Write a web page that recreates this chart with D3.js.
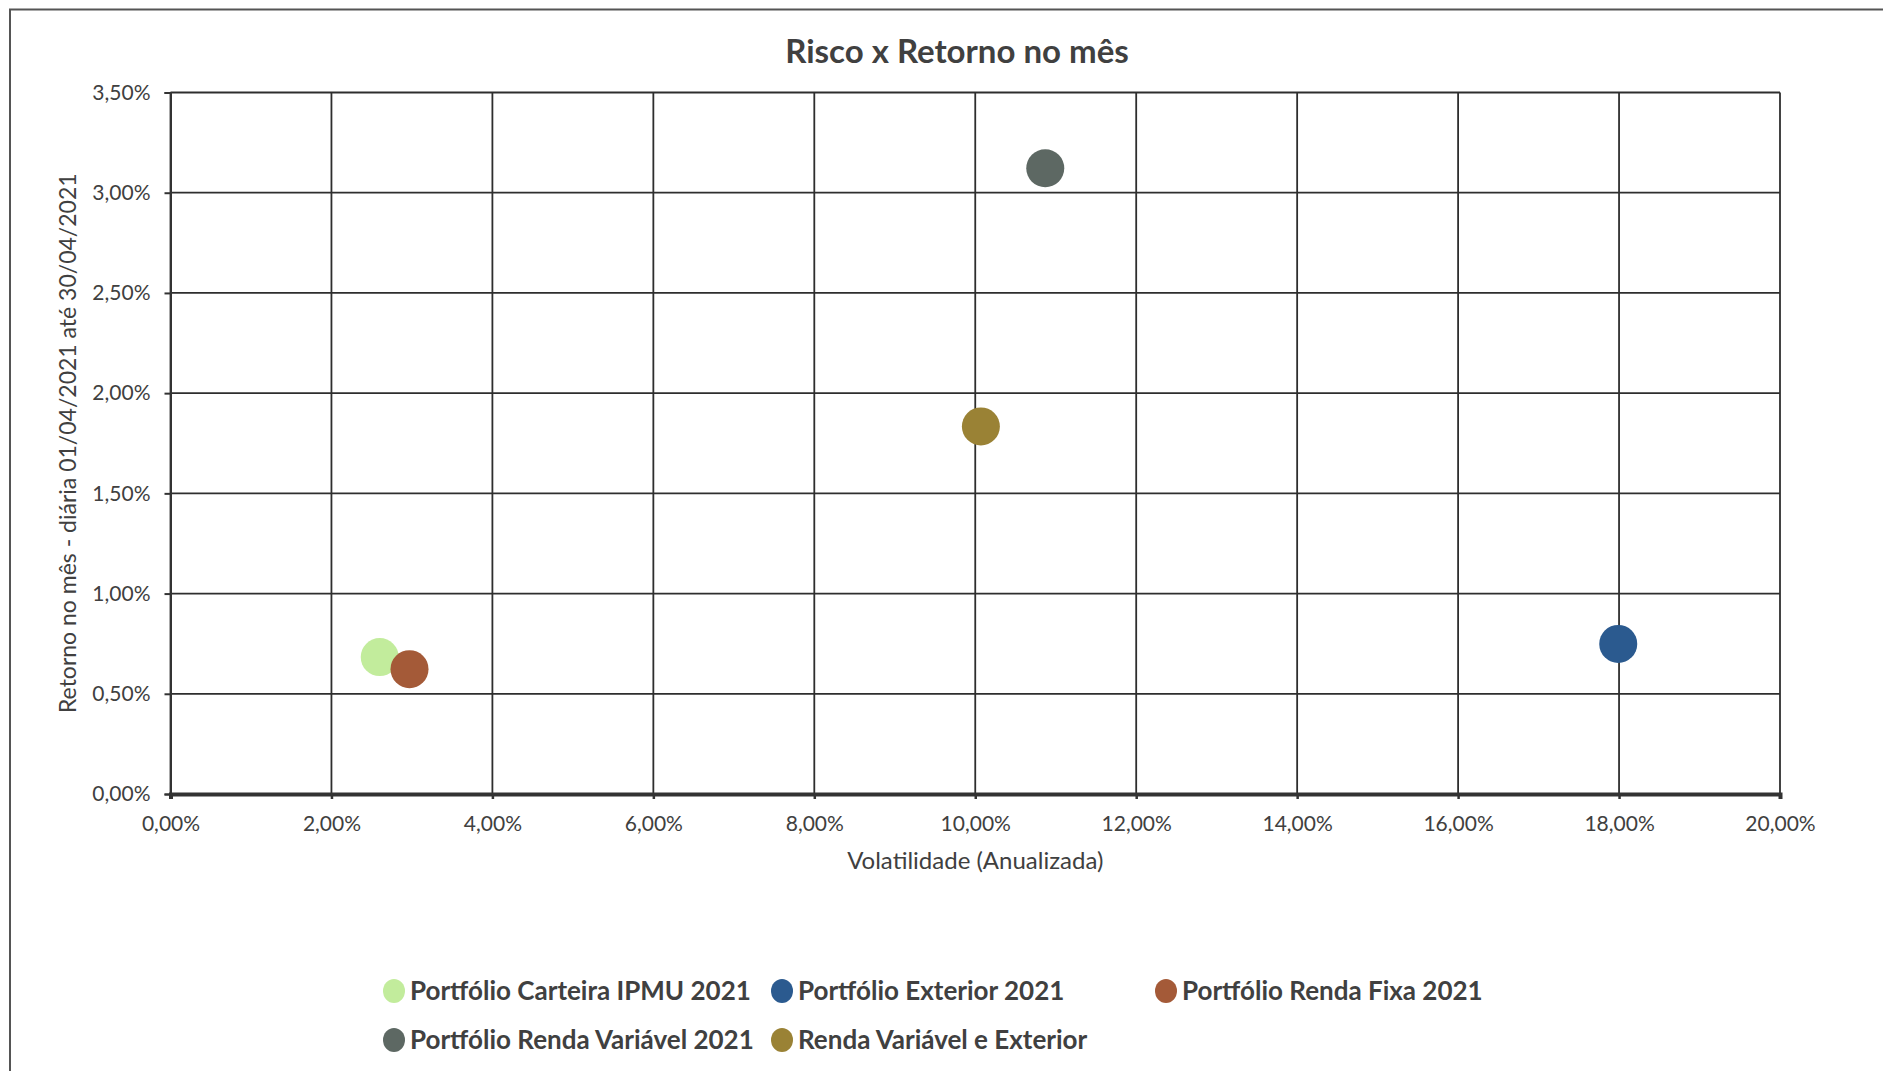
<!DOCTYPE html>
<html>
<head>
<meta charset="utf-8">
<script src="https://cdn.jsdelivr.net/npm/d3@7"></script>
<style>
  html, body { margin: 0; padding: 0; background: #fff; }
  svg { display: block; }
  text { font-family: Lato, "Open Sans", sans-serif; }
</style>
</head>
<body>
<svg id="chart" width="1883" height="1071"></svg>
<script>
// ---- data ----
const seriesNames = [
  "Portfólio Carteira IPMU 2021",
  "Portfólio Exterior 2021",
  "Portfólio Renda Fixa 2021",
  "Portfólio Renda Variável 2021",
  "Renda Variável e Exterior"
];
const volatility = [2.60, 17.99, 2.97, 10.87, 10.07];   // % annualized
const monthReturn = [0.683, 0.749, 0.623, 3.122, 1.834]; // %
const seriesColors = ["#c2ec9c", "#2b5a8f", "#a45a38", "#5d6863", "#9a8235"];
const xTicks = [0, 2, 4, 6, 8, 10, 12, 14, 16, 18, 20];
const yTicks = [0, 0.5, 1.0, 1.5, 2.0, 2.5, 3.0, 3.5];

const chartTitle = "Risco x Retorno no mês";
const xTitle = "Volatilidade (Anualizada)";
const yTitle = "Retorno no mês - diária 01/04/2021 até 30/04/2021";

(function () {
// ---- layout ----
const svg = d3.select("#chart");
const pL = 170.5, pR = 1780, pT = 92.5, pB = 794;
const fmt = v => v.toFixed(2).replace(".", ",") + "%";

const x = d3.scaleLinear().domain([0, 20]).range([pL, pR]);
const y = d3.scaleLinear().domain([0, 3.5]).range([pB, pT]);

// outer chart border
svg.append("path")
  .attr("d", `M10,1071 L10,9.5 L1883,9.5`)
  .attr("fill", "none").attr("stroke", "#555").attr("stroke-width", 2);

// title
svg.append("text")
  .attr("x", 957).attr("y", 63)
  .attr("text-anchor", "middle")
  .attr("font-size", 33).attr("font-weight", "bold")
  .attr("fill", "#404040")
  .text(chartTitle);

// gridlines
const grid = svg.append("g");
grid.selectAll("line.v").data(xTicks).enter().append("line").attr("class", "v")
  .attr("x1", d => x(d)).attr("x2", d => x(d))
  .attr("y1", pT).attr("y2", pB)
  .attr("stroke", "#2e2e2e").attr("stroke-width", 1.8);
grid.selectAll("line.h").data(yTicks).enter().append("line").attr("class", "h")
  .attr("x1", pL).attr("x2", pR)
  .attr("y1", d => y(d)).attr("y2", d => y(d))
  .attr("stroke", "#2e2e2e").attr("stroke-width", 1.8);

// axes
const xAxis = d3.axisBottom(x).tickValues(xTicks).tickFormat(fmt).tickSize(5).tickPadding(17);
const gx = svg.append("g").attr("transform", `translate(0,${pB})`).call(xAxis);
gx.select(".domain").attr("stroke", "#333").attr("stroke-width", 4);
gx.selectAll(".tick line").attr("stroke", "#333").attr("stroke-width", 2.5);
gx.selectAll(".tick text").attr("font-size", 21).attr("fill", "#404040")
  .attr("font-family", "Lato, sans-serif");

const yAxis = d3.axisLeft(y).tickValues(yTicks).tickFormat(fmt).tickSize(6).tickPadding(14);
const gy = svg.append("g").attr("transform", `translate(${pL},0)`).call(yAxis);
gy.select(".domain").attr("stroke", "#333").attr("stroke-width", 2);
gy.selectAll(".tick line").attr("stroke", "#333").attr("stroke-width", 2);
gy.selectAll(".tick text").attr("font-size", 21).attr("fill", "#404040")
  .attr("font-family", "Lato, sans-serif");

// axis titles
svg.append("text")
  .attr("x", (pL + pR) / 2).attr("y", 869)
  .attr("text-anchor", "middle").attr("font-size", 24).attr("fill", "#404040")
  .text(xTitle);
svg.append("text")
  .attr("transform", `translate(76,${(pT + pB) / 2}) rotate(-90)`)
  .attr("text-anchor", "middle").attr("font-size", 23).attr("fill", "#404040")
  .text(yTitle);

// points
const pts = seriesNames.map((n, i) => ({ name: n, vx: volatility[i], vy: monthReturn[i], c: seriesColors[i] }));
svg.append("g").selectAll("circle").data(pts).enter().append("circle")
  .attr("cx", d => x(d.vx)).attr("cy", d => y(d.vy))
  .attr("r", 19).attr("fill", d => d.c);

// legend
const legendPos = [
  [394, 991], [782, 991], [1166, 991],
  [394, 1040], [782, 1040]
];
const lg = svg.append("g");
pts.forEach((d, i) => {
  const [lx, ly] = legendPos[i];
  lg.append("ellipse").attr("cx", lx).attr("cy", ly).attr("rx", 11).attr("ry", 12).attr("fill", d.c);
  lg.append("text").attr("x", lx + 16).attr("y", ly + 9)
    .attr("font-size", 26).attr("font-weight", "bold").attr("fill", "#404040")
    .text(d.name);
});
})();
</script>
</body>
</html>
